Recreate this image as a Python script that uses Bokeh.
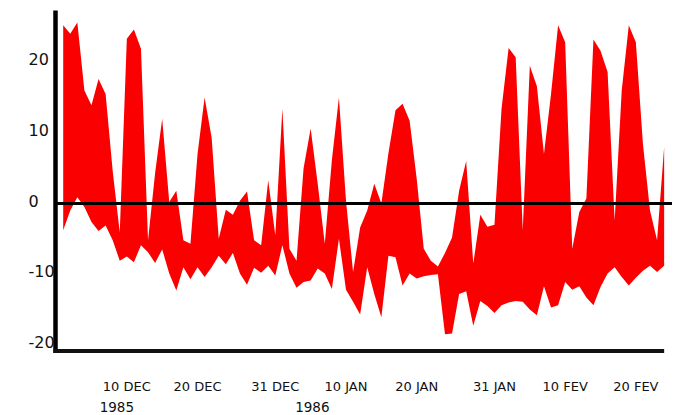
import numpy as np
import pandas as pd
from bokeh.plotting import figure
from bokeh.models import ColumnDataSource, Range1d
from bokeh.core.properties import value
from bokeh.embed import file_html
from bokeh.resources import INLINE

# ---- data (daily, starting 1 Dec 1985) ----
start_date = "1985-12-01"
upper = [25.2, 24.0, 25.6, 16.0, 13.9, 17.6, 15.5, 4.6, -4.1, 23.3,
         24.6, 21.9, -5.2, 4.3, 12.0, 0.2, 1.8, -5.2, -5.7, 7.0,
         15.0, 9.3, -5.0, -0.9, -1.6, 0.4, 1.7, -5.2, -5.9, 3.3,
         -4.5, 13.4, -6.4, -8.1, 5.0, 10.6, 2.8, -5.7, 6.1, 15.0,
         0.4, -9.7, -3.4, -1.0, 2.8, 0.0, 7.1, 13.2, 14.1, 11.7,
         3.5, -6.4, -8.1, -8.9, -7.0, -4.8, 1.8, 6.0, -8.5, -1.6,
         -3.3, -3.0, 13.4, 22.0, 20.7, -3.8, 19.5, 16.6, 7.0, 15.5,
         25.2, 22.8, -6.4, -1.2, 0.7, 23.2, 21.6, 18.6, -2.4, 16.0,
         25.2, 22.8, 8.4, -1.0, -5.2, 8.0]
lower = [-3.8, -1.0, 0.9, -0.5, -2.6, -3.9, -3.1, -5.2, -8.1, -7.5,
         -8.3, -5.9, -6.9, -8.4, -6.5, -9.9, -12.3, -9.0, -10.7, -9.0,
         -10.4, -9.0, -7.4, -8.6, -7.0, -9.9, -11.5, -9.1, -9.8, -8.8,
         -10.2, -5.9, -9.9, -11.9, -11.1, -10.9, -9.2, -9.9, -12.1, -5.0,
         -12.2, -13.9, -15.7, -9.0, -12.8, -16.1, -7.4, -7.6, -11.6, -9.9,
         -10.6, -10.3, -10.1, -10.0, -18.5, -18.4, -12.8, -12.4, -17.3, -13.8,
         -14.5, -15.5, -14.4, -14.0, -13.8, -13.9, -15.0, -15.8, -11.7, -14.7,
         -14.4, -11.1, -12.2, -11.7, -13.3, -14.4, -11.8, -9.9, -9.0, -10.4,
         -11.6, -10.5, -9.5, -8.8, -9.7, -8.8]

tick_dates = ["1985-12-10", "1985-12-20", "1985-12-31", "1986-01-10",
              "1986-01-20", "1986-01-31", "1986-02-10", "1986-02-20"]
tick_labels = ["10 DEC", "20 DEC", "31 DEC", "10 JAN",
               "20 JAN", "31 JAN", "10 FEV", "20 FEV"]
y_ticks = [20, 10, 0, -10, -20]
year_labels = ["1985", "1986"]
year_dates = ["1985-12-10", "1986-01-01"]

# ---- layout constants (pixels) ----
W, H = 672, 415
X0_PX, PX_PER_DAY = 62.7, 7.07      # screen x of first day, px per day
Y0_PX, PX_PER_UNIT = 203.0, 7.07    # screen y of value 0, px per unit


def dx(px):
    return (px - X0_PX) / PX_PER_DAY


def dy(py):
    return (Y0_PX - py) / PX_PER_UNIT


# ---- derived ----
start = pd.Timestamp(start_date)
days = np.arange(len(upper))
tick_pos = [int((pd.Timestamp(d) - start).days) for d in tick_dates]
year_pos = [int((pd.Timestamp(d) - start).days) for d in year_dates]
year_shift_px = [-10, 30]
year_x = [d + s / PX_PER_DAY for d, s in zip(year_pos, year_shift_px)]

src = ColumnDataSource(dict(day=days, upper=upper, lower=lower))

p = figure(width=W, height=H, output_backend="svg", toolbar_location=None,
           x_range=Range1d(dx(0), dx(W)), y_range=Range1d(dy(H), dy(0)),
           x_axis_location=None, y_axis_location=None,
           min_border=0, background_fill_color="white",
           border_fill_color="white")
p.grid.visible = False
p.outline_line_color = None

# red band between the two series
p.varea(x="day", y1="lower", y2="upper", source=src,
        fill_color="#fb0000", fill_alpha=1.0)

# sketch-style axes
axis_x = dx(55)
p.segment(x0=[axis_x], y0=[dy(352.5)], x1=[axis_x], y1=[dy(10)],
          line_color="black", line_width=4.5)
p.segment(x0=[dx(53)], y0=[dy(350.5)], x1=[float(days[-1])], y1=[dy(350.5)],
          line_color="#111111", line_width=4)
p.segment(x0=[axis_x], y0=[0], x1=[dx(672)], y1=[0],
          line_color="black", line_width=3)

# y tick labels (left aligned)
p.text(x=[dx(28)] * len(y_ticks), y=[v + 3 / PX_PER_UNIT for v in y_ticks],
       text=[str(v) for v in y_ticks], text_align="left",
       text_baseline="middle", text_font=value("DejaVu Sans"),
       text_font_size="16px", text_color="#111111")

# x tick labels
p.text(x=tick_pos, y=[dy(385.5)] * len(tick_pos), text=tick_labels,
       text_align="center", text_baseline="middle",
       text_font=value("DejaVu Sans"), text_font_size="13px",
       text_color="#111111")

# year labels
p.text(x=year_x, y=[dy(406)] * len(year_x), text=year_labels,
       text_align="center", text_baseline="middle",
       text_font=value("DejaVu Sans"), text_font_size="13.5px",
       text_color="#111111")

open("out.html", "w").write(file_html(p, INLINE))
